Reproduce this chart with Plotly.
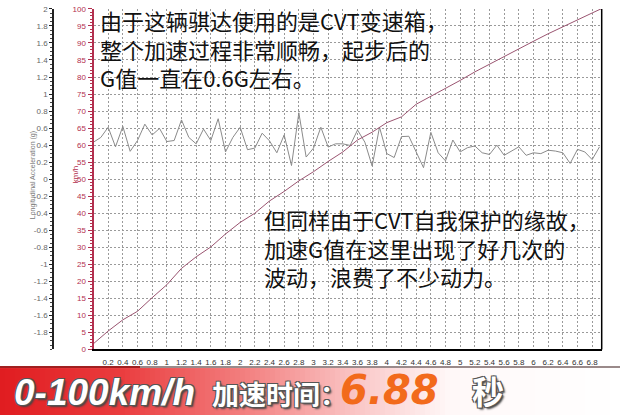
import plotly.graph_objects as go

# ---------------- data ----------------
g_time = [0.0, 0.1, 0.2, 0.3, 0.4, 0.5, 0.6, 0.7, 0.8, 0.9,
          1.0, 1.1, 1.2, 1.3, 1.4, 1.5, 1.6, 1.7, 1.8, 1.9,
          2.0, 2.1, 2.2, 2.3, 2.4, 2.5, 2.6, 2.7, 2.8, 2.9,
          3.0, 3.1, 3.2, 3.3, 3.4, 3.5, 3.6, 3.7, 3.8, 3.9,
          4.0, 4.1, 4.2, 4.3, 4.4, 4.5, 4.6, 4.7, 4.8, 4.9,
          5.0, 5.1, 5.2, 5.3, 5.4, 5.5, 5.6, 5.7, 5.8, 5.9,
          6.0, 6.1, 6.2, 6.3, 6.4, 6.5, 6.6, 6.7, 6.8, 6.9]
g_accel = [0.435, 0.49, 0.61, 0.38, 0.62, 0.327, 0.454, 0.646, 0.519, 0.596,
           0.442, 0.454, 0.696, 0.49, 0.415, 0.588, 0.454, 0.71, 0.32, 0.49,
           0.61, 0.346, 0.365, 0.54, 0.45, 0.31, 0.52, 0.16, 0.78, 0.26,
           0.365, 0.61, 0.377, 0.415, 0.415, 0.396, 0.577, 0.435, 0.154, 0.61,
           0.30, 0.254, 0.50, 0.504, 0.32, 0.135, 0.55, 0.31, 0.215, 0.46,
           0.32, 0.37, 0.39, 0.31, 0.29, 0.40, 0.28, 0.33, 0.38, 0.28,
           0.31, 0.30, 0.34, 0.33, 0.31, 0.185, 0.35, 0.32, 0.23, 0.38]

speed_time = [0.0, 0.2, 0.4, 0.6, 0.8, 1.0, 1.2, 1.4, 1.6, 1.8,
              2.0, 2.2, 2.4, 2.6, 2.8, 3.0, 3.2, 3.4, 3.6, 3.8,
              4.0, 4.2, 4.4, 4.6, 4.8, 5.0, 5.2, 5.4, 5.6, 5.8,
              6.0, 6.2, 6.4, 6.6, 6.8, 6.92]
speed_kmh = [1.7, 5.4, 8.7, 11.2, 15.2, 19.0, 23.8, 27.2, 30.1, 33.9,
             37.3, 40.0, 43.6, 46.4, 49.5, 52.2, 55.2, 58.0, 61.5, 63.8,
             66.6, 68.3, 72.0, 74.3, 76.5, 79.0, 81.5, 83.8, 86.0, 88.3,
             90.5, 92.7, 94.8, 96.8, 98.8, 100.0]

x_ticks = [0.2, 0.4, 0.6, 0.8, 1, 1.2, 1.4, 1.6, 1.8, 2, 2.2, 2.4, 2.6, 2.8, 3,
           3.2, 3.4, 3.6, 3.8, 4, 4.2, 4.4, 4.6, 4.8, 5, 5.2, 5.4, 5.6, 5.8, 6,
           6.2, 6.4, 6.6, 6.8]
g_ticks = [2, 1.8, 1.6, 1.4, 1.2, 1, 0.8, 0.6, 0.4, 0.2, 0,
           -0.2, -0.4, -0.6, -0.8, -1, -1.2, -1.4, -1.6, -1.8]
g_tick_text = ["2", "1.8", "1.6", "1.4", "1.2", "1", "0.8", "0.6", "0.4", "0.2", "0",
               "-0.2", "-0.4", "-0.6", "-0.8", "-1", "-1.2", "-1.4", "-1.6", "-1.8"]
kmh_ticks = [0, 5, 10, 15, 20, 25, 30, 35, 40, 45, 50, 55, 60, 65, 70, 75, 80, 85, 90, 95, 100]

note1 = "由于这辆骐达使用的是CVT变速箱，<br>整个加速过程非常顺畅，起步后的<br>G值一直在0.6G左右。"
note2 = "但同样由于CVT自我保护的缘故，<br>加速G值在这里出现了好几次的<br>波动，浪费了不少动力。"

# ---------------- layout helpers ----------------
W, H = 620, 420
def px(x):
    return x / W
def py(y):
    return 1 - y / H

PL, PR, PT, PB = 93.5, 601.7, 5, 353
RED = "#b3304f"

fig = go.Figure()
fig.add_trace(go.Scatter(x=g_time, y=g_accel, mode="lines", yaxis="y",
                         line=dict(color="#8a8a8a", width=1), showlegend=False,
                         hoverinfo="skip"))
fig.add_trace(go.Scatter(x=speed_time, y=speed_kmh, mode="lines", yaxis="y2",
                         line=dict(color="#9a5470", width=1), showlegend=False,
                         hoverinfo="skip"))

tickfont = dict(family="Liberation Sans, Arial, sans-serif", size=8)

fig.update_layout(
    width=W, height=H,
    margin=dict(l=0, r=0, t=0, b=0),
    paper_bgcolor="white", plot_bgcolor="white",
    xaxis=dict(domain=[px(PL), px(PR)], range=[0, 6.93], tickvals=x_ticks,
               ticktext=[f"{v:g}" for v in x_ticks], tickfont=dict(tickfont, color="#333"),
               ticklabelstandoff=4,
               showgrid=True, gridcolor="#9a9a9a", griddash="2px,2px", gridwidth=1,
               showline=True, linecolor="#000", linewidth=2, ticks="", zeroline=False,
               anchor="y2"),
    yaxis=dict(domain=[py(PB), py(PT)], range=[-2, 2], anchor="free",
               position=px(53), side="left", tickvals=g_ticks, ticktext=g_tick_text,
               tickfont=dict(tickfont, color="#666"), showgrid=False, zeroline=False,
               showline=True, linecolor="#222", linewidth=1.5,
               ticks="outside", ticklen=3, tickcolor="#222",
               minor=dict(ticks="outside", ticklen=2, dtick=0.05, tickcolor="#444")),
    yaxis2=dict(domain=[py(PB), py(PT)], range=[0, 100], overlaying="y", anchor="x",
                side="left", tickvals=kmh_ticks, tickfont=dict(tickfont, color=RED),
                showgrid=True, gridcolor="#9a9a9a", griddash="2px,2px", gridwidth=1,
                zeroline=False, showline=True, linecolor=RED, linewidth=2,
                ticks="outside", ticklen=4, tickcolor=RED,
                minor=dict(ticks="outside", ticklen=2, dtick=1, tickcolor=RED)),
)

shapes = []
# right border of plot
shapes.append(dict(type="line", xref="paper", yref="paper", x0=px(PR), x1=px(PR),
                   y0=py(PB), y1=py(PT), line=dict(color="#000", width=1.5)))

# banner gradient
BT, BB = 372, 420
stops = [(0, (224, 28, 32)), (120, (234, 60, 62)), (250, (243, 130, 130)),
         (360, (250, 200, 200)), (450, (255, 248, 248)), (620, (255, 255, 255))]
def col_at(x):
    for (x0, c0), (x1, c1) in zip(stops[:-1], stops[1:]):
        if x0 <= x <= x1:
            f = (x - x0) / (x1 - x0)
            return tuple(int(round(c0[i] + (c1[i] - c0[i]) * f)) for i in range(3))
    return stops[-1][1]
step = 5
for x in range(0, W, step):
    c = col_at(x + step / 2)
    shapes.append(dict(type="rect", xref="paper", yref="paper", x0=px(x), x1=px(x + step + 0.5),
                       y0=py(BB), y1=py(BT), line=dict(width=0),
                       fillcolor=f"rgb({c[0]},{c[1]},{c[2]})", layer="below"))
shapes.append(dict(type="line", xref="paper", yref="paper", x0=0, x1=1,
                   y0=py(BT - 1), y1=py(BT - 1), line=dict(color="#9a8a8a", width=2)))
shapes.append(dict(type="line", xref="paper", yref="paper", x0=0, x1=px(140),
                   y0=py(BT - 1), y1=py(BT - 1), line=dict(color="#a02020", width=2)))
fig.update_layout(shapes=shapes)

outline = "-1px -1px 0 #555, 1px -1px 0 #555, -1px 1px 0 #555, 1px 1px 0 #555, 2px 2px 2px #444"
note_font = dict(family="Noto Sans CJK SC", size=22, color="#111")
anns = [
    dict(text=note1, x=px(98), y=py(45.5), xanchor="left", yanchor="middle", align="left",
         font=note_font),
    dict(text=note2, x=px(262), y=py(249), xanchor="left", yanchor="middle", align="left",
         font=note_font),
    dict(text="Longitudinal Acceleration (g)", x=px(33), y=py(175), textangle=-90,
         xanchor="center", yanchor="middle",
         font=dict(family="Liberation Sans, Arial", size=7, color="#777")),
    dict(text="km/h", x=px(75), y=py(175), textangle=-90, xanchor="center", yanchor="middle",
         font=dict(family="Liberation Sans, Arial", size=8, color=RED)),
    dict(text="0-100km/h", x=px(12), y=py(420), xanchor="left", yanchor="bottom",
         font=dict(family="Liberation Sans", size=37, color="white", weight="bold",
                   style="italic", shadow=outline)),
    dict(text="加速时间：", x=px(210), y=py(420), xanchor="left", yanchor="bottom",
         font=dict(family="Noto Sans CJK SC", size=27, color="white", weight="bold",
                   shadow=outline)),
    dict(text="6.88", x=px(338), y=py(420), xanchor="left", yanchor="bottom",
         font=dict(family="DejaVu Sans", size=40, color="#f26a1b", weight="bold",
                   style="italic")),
    dict(text="秒", x=px(470), y=py(420), xanchor="left", yanchor="bottom",
         font=dict(family="Noto Sans CJK SC", size=32, color="white", weight="bold",
                   shadow=outline)),
]
for a in anns:
    a.update(xref="paper", yref="paper", showarrow=False)
fig.update_layout(annotations=anns)

fig.write_html("out.html", config={"displayModeBar": False},
               post_script="document.body.style.margin='0';document.body.style.overflow='hidden';")
